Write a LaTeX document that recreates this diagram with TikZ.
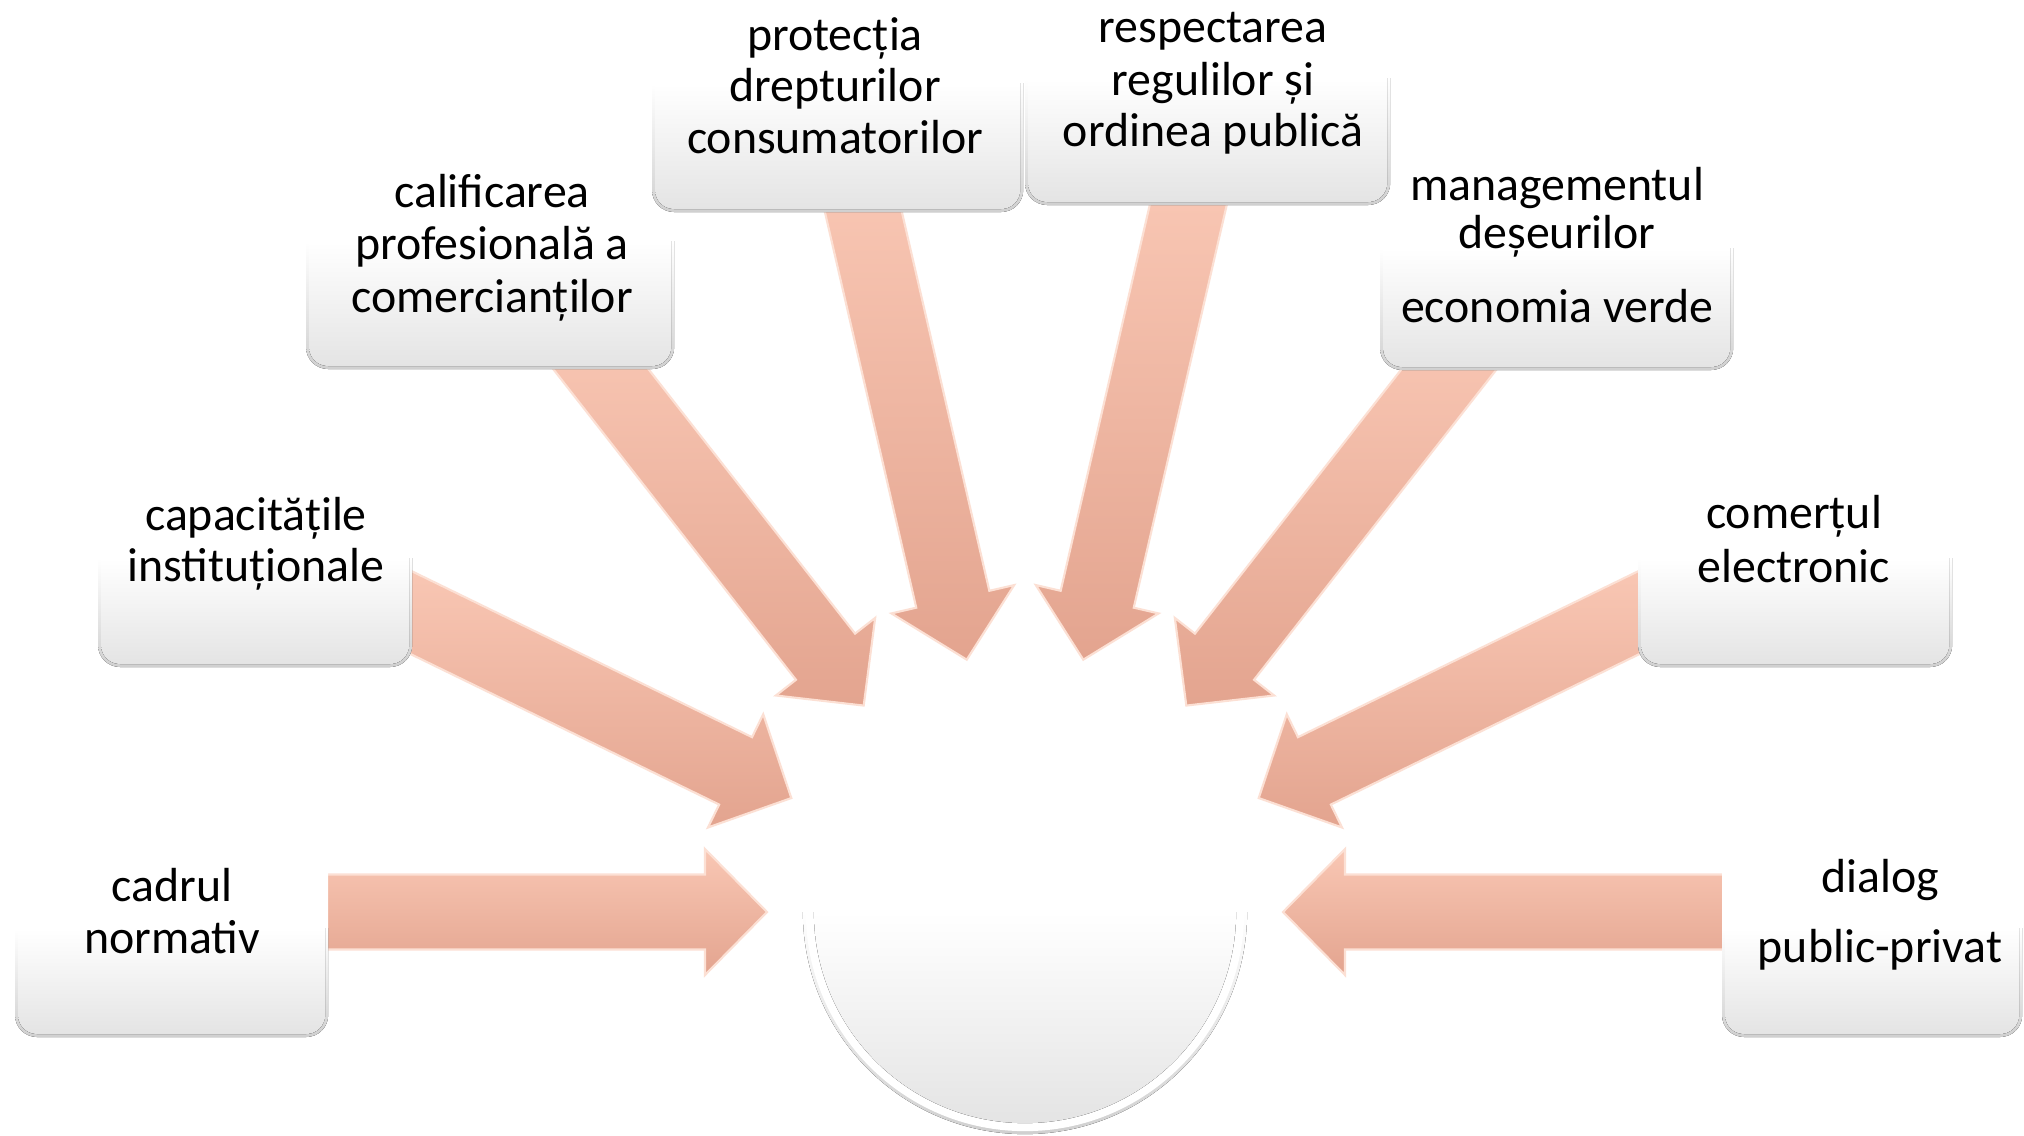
\documentclass[tikz,border=0pt]{standalone}
\usepackage{fontspec}
\setmainfont{Carlito}
\usetikzlibrary{calc}
\definecolor{arrtop}{HTML}{F9C7B4}
\definecolor{arrbot}{HTML}{E3A48F}
\definecolor{arredge}{HTML}{FCE0D4}
\definecolor{rimgray}{HTML}{D0D0D0}
\definecolor{boxgray}{HTML}{E4E4E4}
\tikzset{
  boxbase/.style={rectangle, rounded corners=0.22cm, inner sep=0pt, outer sep=0pt,
    fill=white, anchor=south west},
  boxrim/.style={rounded corners=0.22cm, top color=white, bottom color=rimgray, middle color=white},
  boxin/.style={rounded corners=0.19cm, top color=white, bottom color=boxgray, middle color=white},
  lbl/.style={anchor=base, inner sep=0pt, outer sep=0pt, font=\fontsize{13.6pt}{16pt}\selectfont, text=black},
  arrowbody/.style={top color=arrtop, bottom color=arrbot, draw=arredge, line width=0.6pt, line join=miter},
}
% name, x-left, y-bottom, width, height
\newcommand\mkbox[5]{%
  \node[boxbase, minimum width=#4, minimum height=#5] (#1) at (#2,#3) {};
  \begin{scope}
    \clip ($(#1.west)+(-3,0)$) rectangle ($(#1.south east)+(3,3)$);
    \fill[boxrim] (#1.south west) rectangle (#1.north east);
    \fill[boxin] ($(#1.south west)+(3,-3)$) rectangle ($(#1.north east)+(-3,3)$);
  \end{scope}
}
% angle, R tail, R tip, R head base
\newcommand\mkarrow[4]{%
  \path[arrowbody] ($(C)+(#1:#2)+(#1+90:37.5)$) -- ($(C)+(#1:#4)+(#1+90:37.5)$)
    -- ($(C)+(#1:#4)+(#1+90:63)$) -- ($(C)+(#1:#3)$) -- ($(C)+(#1:#4)+(#1-90:63)$)
    -- ($(C)+(#1:#4)+(#1-90:37.5)$) -- ($(C)+(#1:#2)+(#1-90:37.5)$) -- cycle;
}
\begin{document}
\begin{tikzpicture}[x=0.01cm, y=-0.01cm]
\useasboundingbox (0,0) rectangle (2024,1135);
\fill[white] (0,0) rectangle (2024,1135);
\coordinate (C) at (1025,912);

% central circle
\node[circle, minimum size=4.44cm, inner sep=0pt, fill=white] (hub) at (C) {};
\begin{scope}
  \clip (790,912) rectangle (1260,1140);
  \fill[top color=white, bottom color=rimgray, middle color=white] (hub.center) circle (2.22cm);
  \fill[white] (hub.center) circle (2.19cm);
  \fill[top color=white, bottom color=boxgray, middle color=white] (hub.center) circle (2.11cm);
\end{scope}

% arrows
\mkarrow{180}{727}{258}{320}
\mkarrow{-154}{712}{260}{322}
\mkarrow{-128}{720}{262}{324}
\mkarrow{-103}{750}{259}{321}
\mkarrow{-77}{745}{259}{321}
\mkarrow{-52}{720}{262}{324}
\mkarrow{-26}{712}{260}{322}
\mkarrow{0}{727}{258}{320}

% boxes
\mkbox{b1}{15}{1037}{3.13cm}{2.16cm}
\mkbox{b2}{98}{667}{3.14cm}{2.17cm}
\mkbox{b3}{306}{369}{3.68cm}{2.54cm}
\mkbox{b4}{652}{212}{3.71cm}{2.56cm}
\mkbox{b6}{1380}{370}{3.53cm}{2.43cm}
\mkbox{b5}{1025}{205}{3.65cm}{2.52cm}
\mkbox{b7}{1638}{667}{3.14cm}{2.17cm}
\mkbox{b8}{1722}{1037}{3.00cm}{2.16cm}

% texts
\node[lbl] (t1a) at (172,901) {cadrul};
\node[lbl] (t1b) at (172,953) {normativ};
\node[lbl] (t2a) at (256,530) {capacitățile};
\node[lbl] (t2b) at (256,581) {instituționale};
\node[lbl] (t3a) at (492,207) {calificarea};
\node[lbl] (t3b) at (492,259) {profesională a};
\node[lbl] (t3c) at (492,312) {comercianților};
\node[lbl] (t4a) at (835,50) {protecția};
\node[lbl] (t4b) at (835,101) {drepturilor};
\node[lbl] (t4c) at (835,153) {consumatorilor};
\node[lbl] (t5a) at (1213,42) {respectarea};
\node[lbl] (t5b) at (1213,95) {regulilor și};
\node[lbl] (t5c) at (1213,146) {ordinea publică};
\node[lbl] (t6a) at (1557,200) {managementul};
\node[lbl] (t6b) at (1557,248) {deșeurilor};
\node[lbl] (t6c) at (1557,322) {economia verde};
\node[lbl] (t7a) at (1794,528) {comerțul};
\node[lbl] (t7b) at (1794,582) {electronic};
\node[lbl] (t8a) at (1880,892) {dialog};
\node[lbl] (t8b) at (1880,962) {public-privat};
\end{tikzpicture}
\end{document}
